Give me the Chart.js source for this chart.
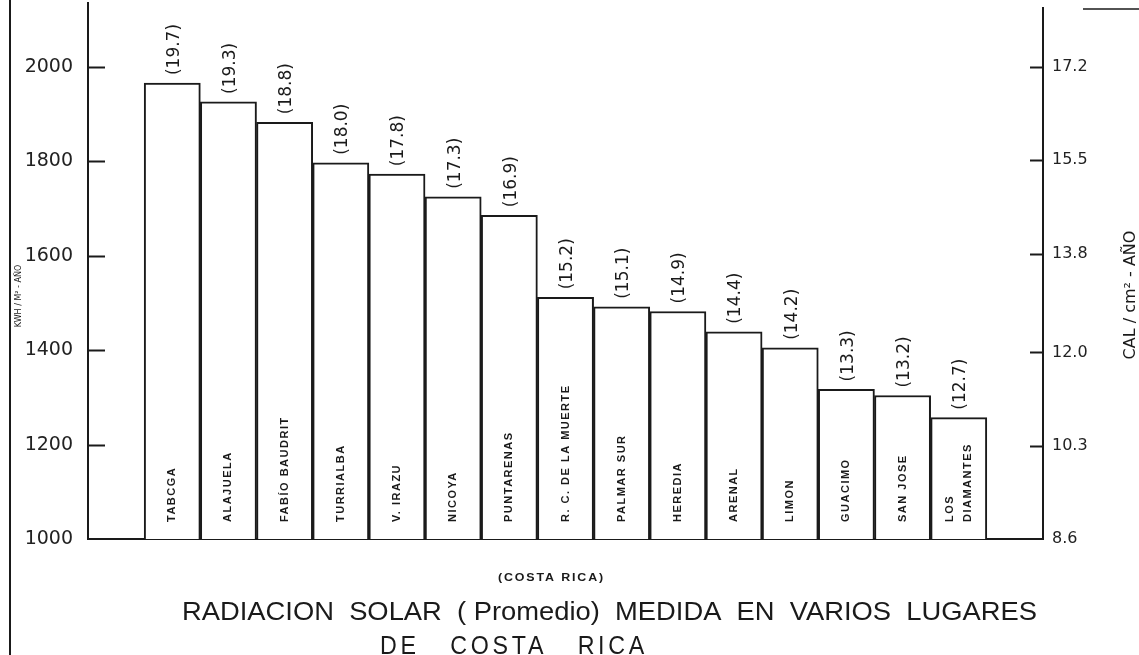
<!DOCTYPE html>
<html>
<head>
<meta charset="utf-8">
<script src="https://cdn.jsdelivr.net/npm/chart.js@4"></script>
<style>
  html, body { margin: 0; padding: 0; background: #fff; }
  #wrap { width: 1139px; height: 655px; position: relative; }
</style>
</head>
<body>
<div id="wrap"><canvas id="solarChart"></canvas></div>
<script>
// stations (bar labels), kwh/m2-año (bar height), value written over each bar
const locations = ['TABCGA', 'ALAJUELA', 'FABÍO BAUDRIT', 'TURRIALBA', 'V. IRAZU', 'NICOYA', 'PUNTARENAS',
    'R. C. DE LA MUERTE', 'PALMAR SUR', 'HEREDIA', 'ARENAL', 'LIMON', 'GUACIMO', 'SAN JOSE', 'LOS\nDIAMANTES'];
const kwhValues = [1966, 1926, 1883, 1797, 1773, 1725, 1686, 1512, 1492, 1482, 1439, 1405, 1317, 1304, 1257];
const topLabels = ['(19.7)', '(19.3)', '(18.8)', '(18.0)', '(17.8)', '(17.3)', '(16.9)',
    '(15.2)', '(15.1)', '(14.9)', '(14.4)', '(14.2)', '(13.3)', '(13.2)', '(12.7)'];
const leftTicks = [1000, 1200, 1400, 1600, 1800, 2000];
const rightTicks = [8.6, 10.3, 12.0, 13.8, 15.5, 17.2];
const kwhToCal = 0.0086;
const yMin = 1000;
const yMax = 2125;

// one empty slot each side so the bars sit inside the axes
const labels = [''].concat(locations, ['']);
const data = [null].concat(kwhValues, [null]);

const ink = '#1a1a1a';

function drawFit(ctx, text, x, y, width) {
    const w = ctx.measureText(text).width;
    ctx.save();
    ctx.translate(x, y);
    ctx.scale(width / w, 1);
    ctx.fillText(text, 0, 0);
    ctx.restore();
}

// fixed axis box, no extra room for the end labels
function fixAxis(width) {
    return s => {
        s.width = width;
        s.paddingTop = 0;
        s.paddingBottom = 0;
    };
}

const paperPlugin = {
    id: 'paper',
    afterDraw(chart) {
        const ctx = chart.ctx;
        const area = chart.chartArea;
        const yL = chart.scales.y;
        const yR = chart.scales.y2;
        const meta = chart.getDatasetMeta(0);

        ctx.save();
        ctx.strokeStyle = ink;
        ctx.fillStyle = ink;

        // inward tick marks
        ctx.lineWidth = 2;
        leftTicks.slice(1).forEach(v => {
            const py = Math.round(yL.getPixelForValue(v)) + 0.5;
            ctx.beginPath(); ctx.moveTo(area.left, py); ctx.lineTo(area.left + 17, py); ctx.stroke();
        });
        rightTicks.slice(1).forEach(v => {
            const py = Math.round(yR.getPixelForValue(v)) + 0.5;
            ctx.beginPath(); ctx.moveTo(area.right - 13, py); ctx.lineTo(area.right, py); ctx.stroke();
        });

        // page frame line on the left and stub at top right
        ctx.beginPath(); ctx.moveTo(10, 0); ctx.lineTo(10, 655); ctx.stroke();
        ctx.beginPath(); ctx.moveTo(area.left, 2); ctx.lineTo(area.left, area.top); ctx.stroke();
        ctx.lineWidth = 1.5;
        ctx.beginPath(); ctx.moveTo(1083, 9); ctx.lineTo(1139, 9); ctx.stroke();

        // labels on the bars
        meta.data.forEach((bar, i) => {
            const idx = i - 1;
            if (idx < 0 || idx >= locations.length) return;
            ctx.save();
            ctx.translate(bar.x + 1, bar.y - 8);
            ctx.rotate(-Math.PI / 2);
            ctx.font = '17px "DejaVu Sans"';
            ctx.textAlign = 'left';
            ctx.textBaseline = 'middle';
            ctx.fillText(topLabels[idx], 0, 1);
            ctx.restore();

            const lines = locations[idx].split('\n');
            ctx.save();
            ctx.translate(bar.x, 522);
            ctx.rotate(-Math.PI / 2);
            ctx.font = 'bold 11px "Liberation Sans"';
            ctx.letterSpacing = '1.5px';
            ctx.textAlign = 'left';
            ctx.textBaseline = 'middle';
            lines.forEach((ln, k) => {
                const off = (k - (lines.length - 1) / 2) * 18;
                ctx.fillText(ln, 0, off);
            });
            ctx.restore();
        });

        // axis titles
        ctx.save();
        ctx.translate(19, 296);
        ctx.rotate(-Math.PI / 2);
        ctx.font = '8px "DejaVu Sans"';
        ctx.textAlign = 'center';
        ctx.textBaseline = 'middle';
        ctx.fillText('KWH / M² - AÑO', 0, 0);
        ctx.restore();

        ctx.save();
        ctx.translate(1131, 295);
        ctx.rotate(-Math.PI / 2);
        ctx.font = '16px "DejaVu Sans"';
        ctx.textAlign = 'center';
        ctx.textBaseline = 'middle';
        ctx.fillText('CAL / cm² - AÑO', 0, 0);
        ctx.restore();

        // captions under the chart
        ctx.textAlign = 'left';
        ctx.textBaseline = 'alphabetic';
        ctx.font = 'bold 10px "Liberation Sans"';
        ctx.letterSpacing = '1.5px';
        drawFit(ctx, '(COSTA RICA)', 498, 581, 107);
        ctx.letterSpacing = '0px';
        ctx.font = '25px "Liberation Sans"';
        drawFit(ctx, 'RADIACION  SOLAR  ( Promedio)  MEDIDA  EN  VARIOS  LUGARES', 182, 620, 855);
        ctx.letterSpacing = '4px';
        drawFit(ctx, 'DE   COSTA   RICA', 380, 654, 268);
        ctx.restore();
    }
};

const ctx = document.getElementById('solarChart').getContext('2d');
const config = {
    type: 'bar',
    data: {
        labels: labels,
        datasets: [{
            label: 'KWH / M² - AÑO',
            data: data,
            backgroundColor: '#ffffff',
            borderColor: ink,
            borderWidth: 2,
            borderSkipped: 'bottom',
            categoryPercentage: 1.0,
            barPercentage: 1.0
        }]
    },
    options: {
        responsive: true,
        maintainAspectRatio: false,
        animation: false,
        layout: { autoPadding: false, padding: { top: 8, left: 0, right: 0, bottom: 0 } },
        plugins: {
            legend: { display: false },
            tooltip: { enabled: false }
        },
        scales: {
            x: {
                grid: { display: false },
                border: { display: true, color: ink, width: 2 },
                ticks: { display: false },
                afterFit: s => { s.height = 116; s.paddingLeft = 0; s.paddingRight = 0; }
            },
            y: {
                position: 'left',
                min: yMin,
                max: yMax,
                grid: { display: false, drawTicks: false },
                border: { display: true, color: ink, width: 2 },
                afterBuildTicks: s => { s.ticks = leftTicks.map(v => ({ value: v })); },
                afterFit: fixAxis(88),
                ticks: {
                    padding: 15,
                    color: '#222',
                    font: { family: 'DejaVu Sans', size: 19 },
                    callback: v => String(v)
                }
            },
            y2: {
                position: 'right',
                min: yMin * kwhToCal,
                max: yMax * kwhToCal,
                grid: { display: false, drawTicks: false },
                border: { display: true, color: ink, width: 2 },
                afterBuildTicks: s => { s.ticks = rightTicks.map(v => ({ value: v })); },
                afterFit: fixAxis(96),
                ticks: {
                    padding: 9,
                    color: '#222',
                    font: { family: 'DejaVu Sans', size: 16 },
                    callback: v => v.toFixed(1)
                }
            }
        }
    },
    plugins: [paperPlugin]
};
const solarChart = new Chart(ctx, config);
</script>
</body>
</html>
